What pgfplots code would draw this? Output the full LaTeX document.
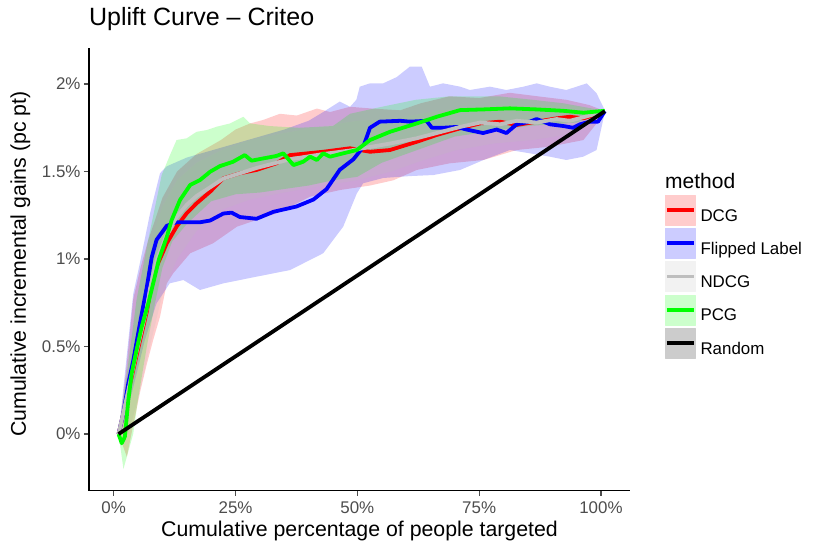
\documentclass[border=0pt]{standalone}
\usepackage{fontspec}
\setmainfont{Liberation Sans}
\usepackage{pgfplots}
\pgfplotsset{compat=1.18}
\definecolor{tickgray}{HTML}{4D4D4D}
\definecolor{cRed}{HTML}{FF0000}
\definecolor{cBlue}{HTML}{0000FF}
\definecolor{cGray}{HTML}{BEBEBE}
\definecolor{cGreen}{HTML}{00FF00}
\definecolor{kRed}{HTML}{FFCCCC}
\definecolor{kBlue}{HTML}{CCCCFF}
\definecolor{kGray}{HTML}{F2F2F2}
\definecolor{kGreen}{HTML}{CCFFCC}
\definecolor{kBlack}{HTML}{CCCCCC}
\newcommand{\keyimg}[2]{\fill[#1] (0pt,-8.95pt) rectangle (30pt,21.05pt); \draw[#2, line width=3.8pt] (1.5pt,6.05pt) -- (28.5pt,6.05pt);}
\begin{document}
\begin{tikzpicture}[x=1pt,y=1pt]
\useasboundingbox (0,0) rectangle (830,554);
\begin{axis}[
  at={(89pt,63.3pt)}, anchor=south west,
  scale only axis, width=541pt, height=442.7pt,
  xmin=-5.07, xmax=105.96, ymin=-0.324, ymax=2.206,
  axis x line*=bottom, axis y line*=left,
  axis line style={black, line width=1.1pt, -},
  xtick={0,25,50,75,100}, xticklabels={0\%,25\%,50\%,75\%,100\%},
  ytick={0,0.5,1,1.5,2}, yticklabels={0\%,0.5\%,1\%,1.5\%,2\%},
  tick style={tickgray, line width=1.1pt},
  tick align=outside, major tick length=5pt,
  ticklabel style={font=\fontsize{16.9}{16.9}\selectfont, text=tickgray},
  xticklabel style={yshift=-2.5pt},
  xlabel={Cumulative percentage of people targeted},
  ylabel={Cumulative incremental gains (pc pt)},
  label style={font=\fontsize{21.3}{21.3}\selectfont},
  xlabel style={at={(axis description cs:0.5,0)}, anchor=base, yshift=-46pt},
  ylabel style={at={(axis description cs:-0.1165,0.512)}, anchor=base},
  title={Uplift Curve -- Criteo},
  title style={at={(axis description cs:0,1)}, anchor=base west, inner sep=0pt, yshift=16.3pt, font=\fontsize{25}{25}\selectfont},
  legend style={at={(axis description cs:1.0647,0.668)}, anchor=north west, draw=none, fill=none, inner sep=0pt, outer sep=0pt, row sep=2.8pt, column sep=4.7pt, font=\fontsize{16.9}{16.9}\selectfont, nodes={inner sep=0pt}},
  legend cell align=left,
  line join=round,
]
% ribbons
\addplot[draw=none, fill=cRed, fill opacity=0.2, forget plot] coordinates {
(1,0) (2.5,0.35) (4,0.77) (5.5,0.95) (7,1.1) (10,1.35) (13,1.5) (17,1.6) (22,1.68) (25,1.74) (28,1.775) (30.7,1.795) (34.1,1.83) (37.6,1.82) (41.7,1.86) (44.4,1.84) (48.5,1.87) (53,1.86) (58.8,1.85) (63,1.89) (68.9,1.93) (75,1.92) (81.3,1.95) (87,1.93) (92.9,1.91) (97.6,1.88) (100.8,1.845)
(100.8,1.834) (96.4,1.68) (89.5,1.642) (82.7,1.623) (75.9,1.566) (69.0,1.547) (62.2,1.509) (57.4,1.45) (52.6,1.42) (46.4,1.394) (40.3,1.356) (36.2,1.299) (33.4,1.261) (29.3,1.223) (25.3,1.185) (20.4,1.09) (15.7,1.033) (12.2,0.918) (10.9,0.861) (9.5,0.67) (8.1,0.537) (6.8,0.4) (5.5,0.25) (4,0.05) (2.7,-0.13) (1,0)
};
\addplot[draw=none, fill=cBlue, fill opacity=0.2, forget plot] coordinates {
(1,0) (4,0.8) (5.4,0.98) (7.45,1.26) (9.5,1.49) (10.9,1.53) (15,1.58) (20,1.62) (25,1.66) (30,1.70) (35,1.74) (40,1.79) (43,1.84) (46.4,1.90) (48.5,1.87) (49.8,1.91) (50.5,1.985) (52.6,2.004) (55.3,2.004) (58.1,2.04) (60.8,2.10) (63.2,2.10) (64.9,1.985) (67.6,2.004) (71.1,1.985) (73.1,1.966) (77.2,1.985) (80.6,1.966) (84.1,1.985) (86.8,2.004) (89.5,1.985) (92.9,1.966) (97.1,2.004) (99.1,1.947) (100.8,1.85)
(100.8,1.84) (99.1,1.623) (96.4,1.585) (92.9,1.566) (89.5,1.585) (81.3,1.623) (75.9,1.566) (71.1,1.509) (65.6,1.48) (60.8,1.474) (55.3,1.463) (51.2,1.433) (49.9,1.375) (48.5,1.28) (47.1,1.185) (43.0,1.033) (36.2,0.937) (29.3,0.899) (22.5,0.861) (17.7,0.823) (14.3,0.88) (11.5,0.861) (8.8,0.747) (6.4,0.537) (4.4,0.309) (2.3,0.08) (1,0)
};
\addplot[draw=none, fill=cGray, fill opacity=0.2, forget plot] coordinates {
(1,0) (3,0.45) (5,0.8) (7,1.05) (10,1.3) (13,1.45) (17,1.55) (22,1.62) (28,1.68) (35,1.72) (43,1.76) (50,1.79) (57,1.8) (63,1.83) (70,1.86) (78,1.88) (86,1.88) (93,1.88) (100.8,1.845)
(100.8,1.845) (93,1.71) (86,1.68) (78,1.66) (70,1.62) (63,1.56) (57,1.5) (50,1.45) (43,1.42) (35,1.38) (28,1.34) (22,1.28) (17,1.16) (13,1.0) (10,0.8) (7,0.45) (5,0.2) (3,0.0) (1,0)
};
\addplot[draw=none, fill=cGreen, fill opacity=0.2, forget plot] coordinates {
(1,0) (2.5,0.3) (4.7,0.77) (7,1.1) (9.85,1.48) (11.55,1.594) (12.9,1.68) (15,1.69) (17,1.727) (19.1,1.737) (21.1,1.756) (23.9,1.775) (26.6,1.813) (28,1.775) (32,1.76) (38,1.75) (45,1.76) (48.5,1.83) (55,1.87) (62,1.91) (69,1.93) (79,1.93) (86,1.91) (92.3,1.89) (100.8,1.847)
(100.8,1.845) (95,1.78) (90,1.77) (85,1.76) (80,1.74) (75,1.72) (70,1.7) (65,1.65) (60,1.6) (55,1.55) (50,1.47) (45,1.45) (40,1.42) (35,1.40) (30,1.38) (25,1.37) (20,1.33) (15,1.2) (12,1.1) (10,0.95) (8.5,0.75) (6.8,0.5) (5,0.2) (4,0.0) (3,-0.1) (2,-0.2) (1,0)
};
% lines
\addplot[cRed, line width=3.8pt, forget plot] coordinates {
(1,0) (3,0.24) (4.7,0.45) (6.8,0.70) (7.45,0.804) (8.8,0.956) (10.9,1.09) (12.9,1.185) (14.97,1.261) (17,1.318) (19.8,1.385) (22.5,1.461) (25.9,1.49) (29.3,1.509) (33.4,1.547) (36.2,1.594) (43,1.613) (48.5,1.633) (52.6,1.613) (56.7,1.623) (62.2,1.67) (66.3,1.709) (71.1,1.747) (75.2,1.775) (79.3,1.785) (82.7,1.766) (86.8,1.785) (90.9,1.804) (93.6,1.813) (96.4,1.804) (100.8,1.842)
};
\addplot[cBlue, line width=3.8pt, forget plot] coordinates {
(1,0) (1.97,0.118) (3.0,0.29) (4.02,0.42) (5.4,0.634) (6.8,0.84) (7.8,1.01) (8.8,1.11) (10.9,1.19) (12.9,1.21) (15.7,1.21) (17.7,1.21) (19.8,1.22) (22.5,1.26) (24.2,1.265) (25.9,1.24) (29.3,1.23) (32.8,1.27) (37.5,1.30) (41.0,1.34) (43.7,1.40) (46.4,1.51) (49.2,1.57) (51.2,1.64) (52.6,1.75) (54.6,1.785) (58.8,1.79) (60.8,1.785) (64.2,1.79) (65.3,1.75) (67.6,1.75) (70.4,1.755) (72.4,1.74) (75.8,1.72) (78.6,1.74) (80.6,1.72) (82.7,1.77) (85.4,1.785) (86.8,1.80) (88.2,1.785) (89.5,1.77) (92.3,1.76) (94.3,1.75) (95.7,1.77) (97.7,1.785) (99.4,1.785) (100.8,1.845)
};
\addplot[cGray, line width=3.8pt, forget plot] coordinates {
(1,0) (3,0.25) (4.7,0.47) (6.8,0.72) (7.45,0.83) (8.8,0.99) (10.9,1.14) (12.9,1.24) (15,1.31) (17,1.36) (19.8,1.41) (22.5,1.46) (25.9,1.49) (29.3,1.52) (33.4,1.55) (36.2,1.57) (43,1.60) (48.5,1.62) (52.6,1.64) (56.7,1.66) (62.2,1.69) (66.3,1.72) (71.1,1.755) (75.2,1.78) (79.3,1.77) (82.7,1.79) (86.8,1.78) (90.9,1.80) (93.6,1.79) (96.4,1.81) (100.8,1.845)
};
\addplot[cGreen, line width=3.8pt, forget plot] coordinates {
(1,0) (1.64,-0.053) (2.3,-0.015) (3.0,0.194) (3.7,0.347) (4.7,0.48) (5.75,0.613) (7.1,0.747) (8.1,0.861) (9.3,1.0) (10.9,1.127) (11.9,1.223) (13.6,1.337) (15.7,1.423) (17.7,1.451) (19.8,1.499) (21.8,1.531) (24.5,1.556) (26.9,1.594) (28.3,1.562) (30.7,1.575) (33.4,1.589) (34.8,1.604) (36.9,1.537) (38.9,1.556) (40.3,1.585) (41.7,1.566) (43.0,1.604) (44.4,1.585) (47.1,1.604) (49.9,1.623) (52.6,1.68) (56.7,1.727) (62.2,1.775) (66.3,1.813) (71.1,1.851) (75.9,1.855) (81.3,1.861) (86.8,1.855) (92.3,1.847) (96.4,1.836) (100.8,1.847)
};
\addplot[black, line width=3.8pt, forget plot] coordinates {(1,0) (100.8,1.845)};
% legend
\addlegendimage{legend image code/.code={\keyimg{kRed}{cRed}}}
\addlegendentry{DCG}
\addlegendimage{legend image code/.code={\keyimg{kBlue}{cBlue}}}
\addlegendentry{Flipped Label}
\addlegendimage{legend image code/.code={\keyimg{kGray}{cGray}}}
\addlegendentry{NDCG}
\addlegendimage{legend image code/.code={\keyimg{kGreen}{cGreen}}}
\addlegendentry{PCG}
\addlegendimage{legend image code/.code={\keyimg{kBlack}{black}}}
\addlegendentry{Random}
\end{axis}
\node[anchor=base west, inner sep=0pt, font=\fontsize{21}{21}\selectfont] at (665,365.7) {method};
\end{tikzpicture}
\end{document}
